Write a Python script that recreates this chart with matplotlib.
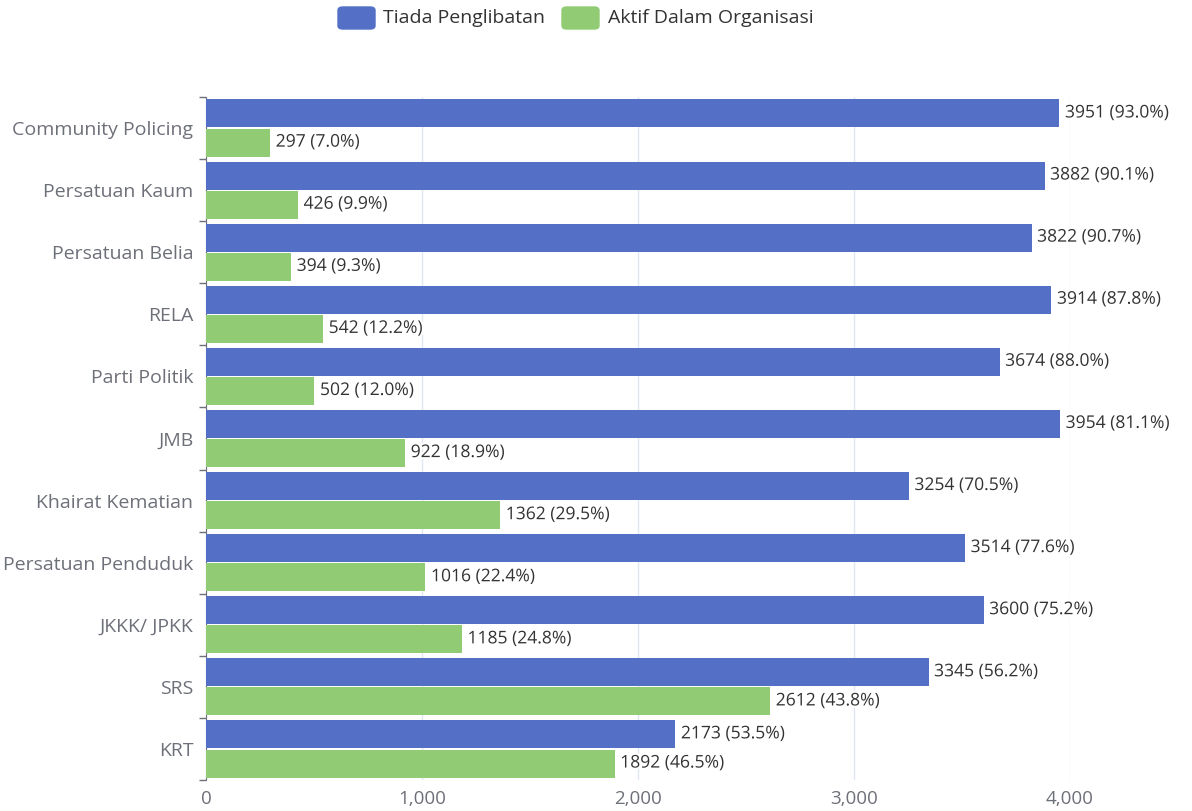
import matplotlib
matplotlib.use("Agg")
import matplotlib.pyplot as plt
import matplotlib.patheffects as pe
from matplotlib.patches import FancyBboxPatch
import numpy as np

plt.rcParams['font.family'] = ['Open Sans', 'DejaVu Sans']

# kategori (dari bawah ke atas)
kategori = ["KRT", "SRS", "JKKK/ JPKK", "Persatuan Penduduk", "Khairat Kematian",
            "JMB", "Parti Politik", "RELA", "Persatuan Belia", "Persatuan Kaum",
            "Community Policing"]
tiada = [2173, 3345, 3600, 3514, 3254, 3954, 3674, 3914, 3822, 3882, 3951]
aktif = [1892, 2612, 1185, 1016, 1362, 922, 502, 542, 394, 426, 297]
nama_siri = ["Tiada Penglibatan", "Aktif Dalam Organisasi"]
warna = ["#5470C6", "#91CC75"]
xticks = [0, 1000, 2000, 3000, 4000]

W, H = 1192, 811
fig = plt.figure(figsize=(W / 100, H / 100), dpi=100)
ax = fig.add_axes([206 / W, 1 - 780 / H, (1070 - 206) / W, (780 - 97) / H])

y = np.arange(len(kategori))
h = 0.45
jumlah = np.array(tiada) + np.array(aktif)
ax.barh(y + 0.235, tiada, height=h, color=warna[0], zorder=3)
ax.barh(y - 0.235, aktif, height=h, color=warna[1], zorder=3)

garis = [pe.withStroke(linewidth=3, foreground="white")]
for i in range(len(kategori)):
    for val, off in ((tiada[i], 0.235), (aktif[i], -0.235)):
        pct = val / jumlah[i] * 100
        ax.annotate(f"{val} ({pct:.1f}%)", (val, y[i] + off), xytext=(4, 0),
                    textcoords="offset points", va="center", ha="left",
                    fontsize=12.6, color="#333333", path_effects=garis,
                    zorder=5, annotation_clip=False)

ax.set_xlim(0, 4000)
ax.set_ylim(-0.5, len(kategori) - 0.5)
ax.set_xticks(xticks)
ax.set_xticklabels([f"{v:,}" for v in xticks])
ax.tick_params(axis="x", length=0, pad=7, labelsize=13.5, labelcolor="#6E7079")
ax.grid(axis="x", color="#E0E6F1", linewidth=1, zorder=0)

ax.set_yticks(np.arange(-0.5, len(kategori)), labels=[])
ax.set_yticks(y, labels=kategori, minor=True)
ax.tick_params(axis="y", which="major", length=5, width=1, color="#6E7079")
ax.tick_params(axis="y", which="minor", length=0, pad=9, labelsize=14,
               labelcolor="#6E7079")

for s in ["top", "right", "bottom"]:
    ax.spines[s].set_visible(False)
ax.spines["left"].set_color("#6E7079")

# legenda
leg = [(338, 383), (562, 608)]
for (px, tx), nm, c in zip(leg, nama_siri, warna):
    fig.patches.append(FancyBboxPatch((px / W, 1 - 29 / H), 37 / W, 22 / H,
                                      boxstyle="round,pad=0,rounding_size=0.004",
                                      transform=fig.transFigure, color=c))
    fig.text(tx / W, 1 - 18 / H, nm, va="center", ha="left", fontsize=14,
             color="#333333")

fig.savefig("out.png", dpi=100)
